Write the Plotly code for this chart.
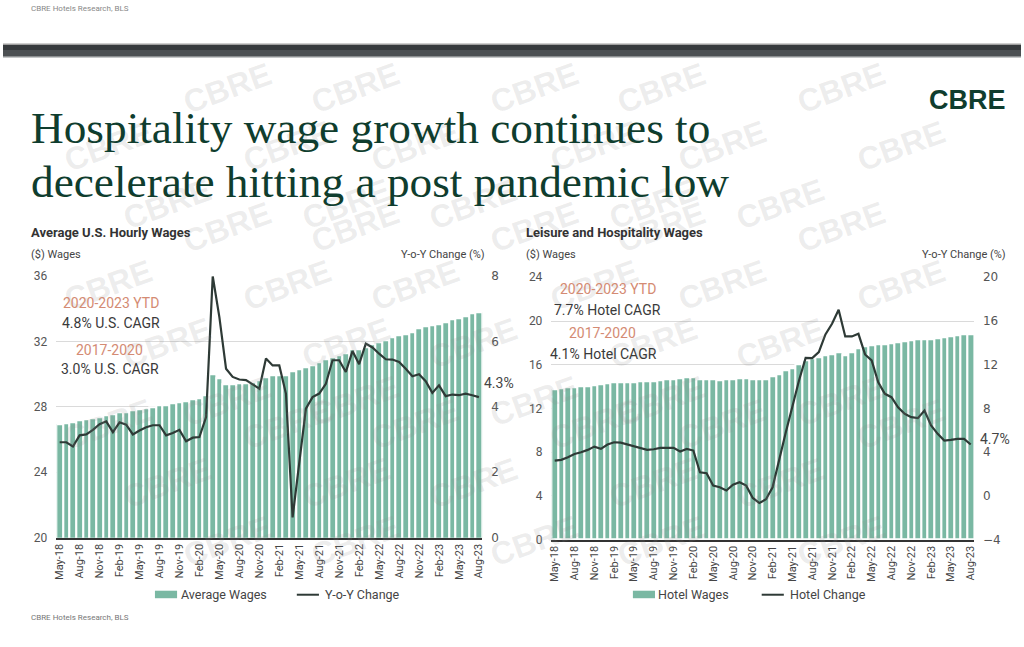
import plotly.graph_objects as go
import pandas as pd

# ---------------- data ----------------
months = list(pd.date_range("2018-05-01", periods=64, freq="MS").strftime("%b-%y"))
tick_labels = months[::3]

avg_wages = [26.92, 26.98, 27.05, 27.16, 27.24, 27.30, 27.35, 27.48,
             27.56, 27.66, 27.70, 27.77, 27.83, 27.90, 27.98, 28.09, 28.11, 28.20, 28.29, 28.32,
             28.44, 28.52, 28.70, 30.02, 29.73, 29.38, 29.40, 29.46, 29.48, 29.52, 29.61, 29.84,
             29.93, 29.94, 29.95, 30.17, 30.33, 30.44, 30.58, 30.74, 30.91, 31.04, 31.15, 31.31,
             31.51, 31.56, 31.68, 31.85, 31.97, 32.08, 32.27, 32.36, 32.46, 32.58, 32.82, 32.92,
             33.03, 33.09, 33.18, 33.36, 33.44, 33.58, 33.74, 33.82]

yoy_us = [2.92, 2.92, 2.79, 3.13, 3.16, 3.30, 3.47, 3.56,
          3.23, 3.53, 3.46, 3.16, 3.28, 3.38, 3.44, 3.44, 3.13, 3.20, 3.30, 2.95,
          3.06, 3.08, 3.69, 8.00, 6.75, 5.17, 4.92, 4.84, 4.82, 4.69, 4.56, 5.48,
          5.27, 5.27, 4.41, 0.62, 2.36, 3.95, 4.30, 4.41, 4.71, 5.43, 5.43, 5.07,
          5.71, 5.31, 5.94, 5.82, 5.63, 5.46, 5.45, 5.38, 5.17, 4.94, 5.00, 4.79,
          4.43, 4.66, 4.33, 4.38, 4.36, 4.41, 4.36, 4.30]

hotel_wages = [13.80, 13.86, 13.92, 13.98, 14.01, 14.07, 14.13, 14.19,
               14.26, 14.35, 14.38, 14.41, 14.44, 14.47, 14.50, 14.53, 14.59, 14.65, 14.71, 14.77,
               14.84, 14.87, 14.68, 14.68, 14.65, 14.62, 14.65, 14.71, 14.74, 14.74, 14.70, 14.68,
               14.71, 14.93, 15.17, 15.48, 15.72, 16.03, 16.39, 16.60, 16.69, 16.85, 17.00, 17.10,
               16.91, 17.15, 17.46, 17.67, 17.77, 17.83, 17.89, 17.98, 18.04, 18.13, 18.22, 18.32,
               18.29, 18.32, 18.38, 18.50, 18.62, 18.68, 18.77, 18.83]

hotel_change = [3.23, 3.30, 3.54, 3.84, 3.99, 4.21, 4.51, 4.30,
                4.70, 4.91, 4.88, 4.70, 4.58, 4.33, 4.21, 4.27, 4.40, 4.40, 4.40, 4.06,
                4.30, 4.15, 2.16, 2.07, 0.94, 0.79, 0.49, 1.03, 1.25, 0.94, -0.19, -0.65,
                -0.31, 0.79, 3.39, 5.83, 8.18, 10.56, 12.63, 12.60, 13.15, 14.77, 15.75, 17.03,
                14.59, 14.59, 14.83, 12.94, 12.39, 10.40, 9.34, 9.03, 8.11, 7.51, 7.20, 7.11,
                7.81, 6.44, 5.68, 5.06, 5.13, 5.22, 5.22, 4.70]

# ---------------- style / geometry ----------------
W, H = 1024, 647
# the photographed page shows the figure slightly inset and scaled; compensate
SX, OX = 0.988, 6.0
SY, OY = 0.977, 7.1
BAR = "#7ab8a3"
LINE = "#2e3a36"
GREEN = "#0f3d2e"
SALMON = "#d48b73"
DARK = "#3a3a3a"
SANS = "Roboto, Liberation Sans, sans-serif"


def px(x):
    return ((x - OX) / SX) / W


def py(y):
    return 1 - ((y - OY) / SY) / H


fig = go.Figure()
fig.add_trace(go.Bar(x=months, y=avg_wages, marker=dict(color=BAR, line=dict(color="white", width=2)),
                     xaxis="x", yaxis="y", name="Average Wages", showlegend=False))
fig.add_trace(go.Scatter(x=months, y=yoy_us, mode="lines", line=dict(color=LINE, width=2.2),
                         xaxis="x", yaxis="y2", name="Y-o-Y Change", showlegend=False))
fig.add_trace(go.Bar(x=months, y=hotel_wages, marker=dict(color=BAR, line=dict(color="white", width=2)),
                     xaxis="x2", yaxis="y3", name="Hotel Wages", showlegend=False))
fig.add_trace(go.Scatter(x=months, y=hotel_change, mode="lines", line=dict(color=LINE, width=2.2),
                         xaxis="x2", yaxis="y4", name="Hotel Change", showlegend=False))

xcommon = dict(type="category", tickmode="array", tickvals=tick_labels, ticktext=tick_labels,
               tickangle=-90, showline=True, linecolor="#333333", linewidth=1.5, ticks="",
               showgrid=False, zeroline=False, tickfont=dict(family=SANS, size=11, color="#444"),
               range=[-0.5, 63.5], fixedrange=True)
ycommon_left = dict(showgrid=True, gridcolor="#dadada", gridwidth=1, zeroline=False, ticks="",
                    tickfont=dict(family=SANS, size=12, color="#555"), ticklabelstandoff=8)
ycommon_right = dict(showgrid=False, zeroline=False, ticks="", side="right",
                     tickfont=dict(family="DejaVu Sans, sans-serif", size=12, color="#555"),
                     ticklabelstandoff=8)

fig.update_layout(
    width=W, height=H, margin=dict(l=0, r=0, t=0, b=0),
    paper_bgcolor="white", plot_bgcolor="rgba(0,0,0,0)",
    bargap=0, showlegend=False,
    xaxis=dict(domain=[px(59.0), px(482.3)], anchor="y", **xcommon),
    yaxis=dict(domain=[py(537), py(276)], range=[20, 36], tick0=20, dtick=4, anchor="x", **ycommon_left),
    yaxis2=dict(overlaying="y", anchor="x", range=[0, 8], tick0=0, dtick=2, **ycommon_right),
    xaxis2=dict(domain=[px(551.0), px(971.0)], anchor="y3", **xcommon),
    yaxis3=dict(domain=[py(539), py(277)], range=[0, 24], tick0=0, dtick=4, anchor="x2", **ycommon_left),
    yaxis4=dict(overlaying="y3", anchor="x2", range=[-4, 20], tick0=-4, dtick=4, **ycommon_right),
)

shapes = []
# top dark band
for y0, y1, col in [(43.5, 45, "#a0a0a0"), (45, 50, "#363a3d"), (50, 56, "#4c5053"), (56, 57.5, "#8c8f91")]:
    shapes.append(dict(type="rect", xref="paper", yref="paper", x0=0, x1=1, y0=py(y1), y1=py(y0),
                       fillcolor=col, line=dict(width=0), layer="below"))

# manual legend marks
for rx0, lx0 in [(157, 298), (632, 760)]:
    shapes.append(dict(type="rect", xref="paper", yref="paper", x0=px(rx0), x1=px(rx0 + 22),
                       y0=py(597.5), y1=py(590), fillcolor=BAR, line=dict(width=0)))
    shapes.append(dict(type="line", xref="paper", yref="paper", x0=px(lx0), x1=px(lx0 + 22),
                       y0=py(594), y1=py(594), line=dict(color=LINE, width=2)))

annotations = []


def txt(x, y, text, size=12, color=DARK, family=SANS, xanchor="left", yanchor="middle", **kw):
    annotations.append(dict(x=px(x), y=py(y), xref="paper", yref="paper", text=text, showarrow=False,
                            xanchor=xanchor, yanchor=yanchor,
                            font=dict(size=size, color=color, family=family), **kw))


# watermark (decorative, kept inside the page)
for j in range(12):
    for i in range(8):
        wx = -60 + 178 * i + (j % 3) * 60
        wy = -5 + 58 * j
        if 60 <= wx <= W - 60 and 40 <= wy <= H - 40:
            annotations.append(dict(x=px(wx), y=py(wy), xref="paper", yref="paper", text="<b>CBRE</b>",
                                    showarrow=False, textangle=-20,
                                    font=dict(size=32, color="rgba(140,140,140,0.16)",
                                              family="Liberation Sans, Arial, sans-serif")))

# header / footer
txt(32, 9, "CBRE Hotels Research, BLS", size=8, color="#888")
txt(32, 617, "CBRE Hotels Research, BLS", size=8, color="#777")
# logo
txt(965, 100, "<b>CBRE</b>", size=27, color=GREEN, family="Liberation Sans, Arial, sans-serif",
    xanchor="center")
# title
txt(32, 128, "Hospitality wage growth continues to", size=45.3, color=GREEN,
    family="Liberation Serif, serif")
txt(32, 182, "decelerate hitting a post pandemic low", size=45.3, color=GREEN,
    family="Liberation Serif, serif")

# chart headings
txt(32, 232, "<b>Average U.S. Hourly Wages</b>", size=13, color="#333")
txt(524, 232, "<b>Leisure and Hospitality Wages</b>", size=13, color="#333")
txt(32, 254, "($) Wages", size=11, color="#444")
txt(487, 254, "Y-o-Y Change (%)", size=11, color="#444", xanchor="right")
txt(524, 254, "($) Wages", size=11, color="#444")
txt(1005, 254, "Y-o-Y Change (%)", size=11, color="#444", xanchor="right")

# CAGR callouts
txt(113, 303, "2020-2023 YTD", size=14, color=SALMON, xanchor="center")
txt(113, 323, "4.8% U.S. CAGR", size=14, color=DARK, xanchor="center")
txt(112, 350, "2017-2020", size=14, color=SALMON, xanchor="center")
txt(112, 369, "3.0% U.S. CAGR", size=14, color=DARK, xanchor="center")
txt(607, 289, "2020-2023 YTD", size=14, color=SALMON, xanchor="center")
txt(607, 310, "7.7% Hotel CAGR", size=14, color=DARK, xanchor="center")
txt(602, 333, "2017-2020", size=14, color=SALMON, xanchor="center")
txt(603, 354, "4.1% Hotel CAGR", size=14, color=DARK, xanchor="center")

# end labels
txt(482, 383, f"{yoy_us[-1]:.1f}%", size=14, color="#444", family=SANS)
txt(975, 438, f"{hotel_change[-1]:.1f}%", size=14, color="#444", family=SANS)

# legend texts
txt(181, 594, "Average Wages", size=12.5, color="#444")
txt(324, 594, "Y-o-Y Change", size=12.5, color="#444")
txt(655, 594, "Hotel Wages", size=12.5, color="#444")
txt(786, 594, "Hotel Change", size=12.5, color="#444")

fig.update_layout(shapes=shapes, annotations=annotations)
fig.write_html("out.html")
